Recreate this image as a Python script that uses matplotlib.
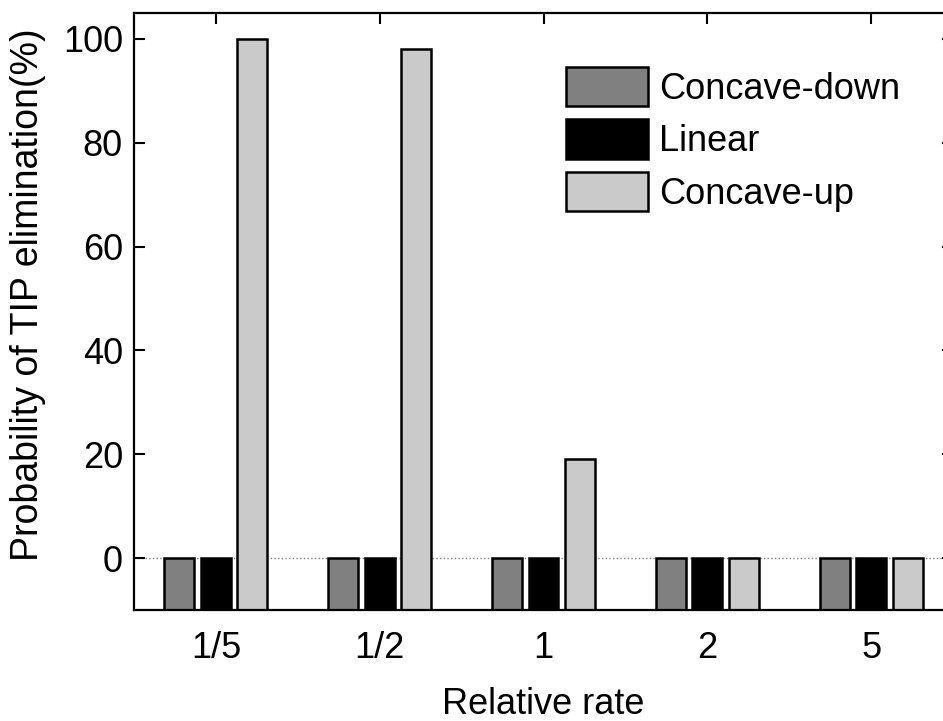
import numpy as np
import matplotlib.pyplot as plt

plt.rcParams['font.family'] = ['Liberation Sans', 'DejaVu Sans']

# data
rates = ['1/5', '1/2', '1', '2', '5']
concave_down = [0, 0, 0, 0, 0]
linear = [0, 0, 0, 0, 0]
concave_up = [100, 98, 19, 0, 0]

series = [('Concave-down', concave_down, '#808080'),
          ('Linear', linear, '#000000'),
          ('Concave-up', concave_up, '#cacaca')]

fig = plt.figure(figsize=(9.43, 7.21), dpi=100)
# axes runs a bit past the right edge, like the cropped original
ax = fig.add_axes([134 / 943, 1 - 610 / 721, 819 / 943, 597 / 721])

x = np.arange(1, len(rates) + 1)
base = -10
offset = 0.223
width = 0.183
for i, (name, vals, col) in enumerate(series):
    vals = np.array(vals)
    ax.bar(x + (i - 1) * offset, vals - base, width, bottom=base,
           color=col, edgecolor='black', linewidth=1.8, label=name)

ax.axhline(0, color='#808080', linestyle=':', linewidth=1.0, zorder=0)

ax.set_xlim(0.5, 5.5)
ax.set_ylim(-10, 105)
ax.set_xticks(x)
ax.set_xticklabels(rates)
ax.set_yticks([0, 20, 40, 60, 80, 100])
ax.tick_params(direction='in', length=8, width=1.5, labelsize=26, top=True,
               right=True)
ax.tick_params(axis='x', pad=15)
ax.tick_params(axis='y', pad=8)
for s in ax.spines.values():
    s.set_linewidth(1.6)

ax.set_xlabel('Relative rate', fontsize=26, labelpad=15)
ax.set_ylabel('Probability of TIP elimination(%)', fontsize=27)
ax.yaxis.set_label_coords(-0.107, 0.528)

ax.legend(loc='upper left', bbox_to_anchor=(566 / 943, 1 - 67 / 721),
          bbox_transform=fig.transFigure, frameon=False, fontsize=26,
          handlelength=2.27, handleheight=1.3, handletextpad=0.3,
          labelspacing=0.35, borderpad=0, borderaxespad=0)

fig.savefig('out.png', dpi=100)
